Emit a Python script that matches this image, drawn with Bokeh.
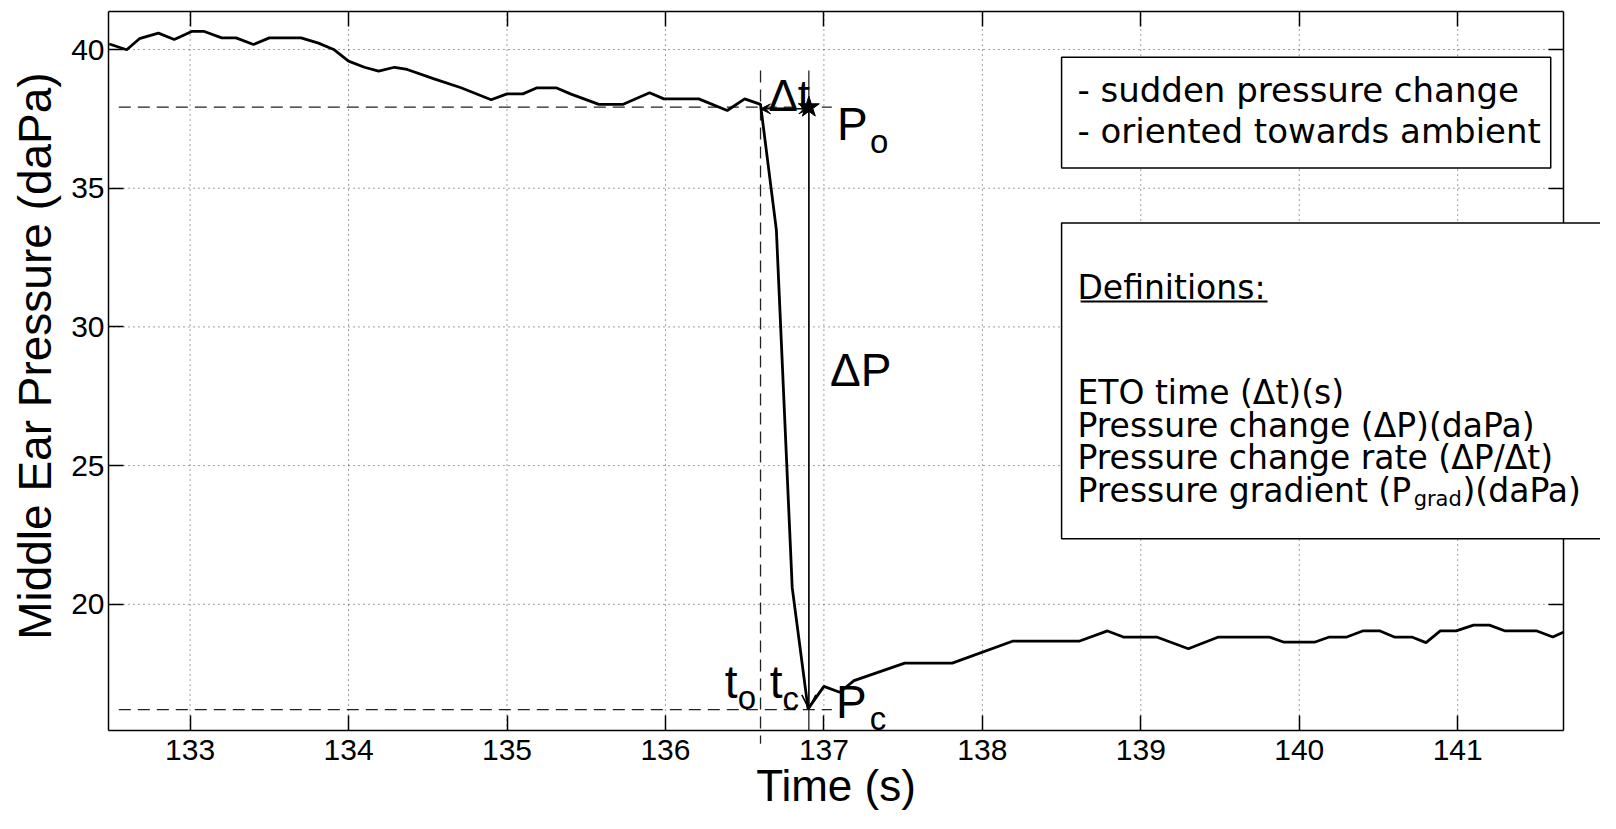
import math
from bokeh.plotting import figure
from bokeh.models import (Range1d, FixedTicker, LinearAxis, Label, Arrow,
                          OpenHead, VeeHead, BoxAnnotation)
from bokeh.embed import file_html
from bokeh.resources import INLINE

# ---------------- data ----------------
time_s = [132.49, 132.60, 132.68, 132.80, 132.90, 133.01, 133.09, 133.20, 133.29,
          133.40, 133.50, 133.70, 133.81, 133.91, 134.00, 134.10, 134.19, 134.29,
          134.37, 134.54, 134.71, 134.90, 135.00, 135.10, 135.19, 135.31, 135.40,
          135.58, 135.73, 135.90, 135.99, 136.21, 136.39, 136.50, 136.60, 136.70,
          136.80, 136.90, 137.00, 137.10, 137.19, 137.51, 137.81, 138.19, 138.61,
          138.79, 138.89, 139.10, 139.30, 139.49, 139.81, 139.90, 140.10, 140.19,
          140.30, 140.40, 140.51, 140.60, 140.71, 140.80, 140.89, 140.99, 141.10,
          141.20, 141.30, 141.50, 141.60, 141.67]
pressure_dapa = [40.20, 39.99, 40.39, 40.59, 40.36, 40.65, 40.65, 40.42, 40.42,
                 40.18, 40.42, 40.42, 40.23, 39.99, 39.58, 39.36, 39.22, 39.36,
                 39.28, 38.94, 38.62, 38.19, 38.40, 38.40, 38.62, 38.62, 38.40,
                 38.02, 38.02, 38.44, 38.22, 38.22, 37.80, 38.22, 38.02, 33.50,
                 20.60, 16.23, 17.04, 16.83, 17.25, 17.88, 17.88, 18.67, 18.67,
                 19.04, 18.82, 18.82, 18.40, 18.82, 18.82, 18.64, 18.64, 18.82,
                 18.82, 19.04, 19.04, 18.82, 18.82, 18.62, 19.04, 19.04, 19.25,
                 19.25, 19.04, 19.04, 18.82, 19.00]

x_ticks = [133, 134, 135, 136, 137, 138, 139, 140, 141]
y_ticks = [20, 25, 30, 35, 40]

# axis box (data limits of the plotted area)
x_min, x_max = 132.485, 141.67
y_min, y_max = 15.45, 41.37

t_open = 136.60      # t_o
t_close = 136.905    # t_c
p_open = 37.92       # P_o
p_close = 16.20      # P_c
guide_top = 39.24
guide_left = 132.55
guide_right = 137.05

x_title = "Time (s)"
y_title = "Middle Ear Pressure (daPa)"
box1_lines = ["- sudden pressure change", "- oriented towards ambient"]
def_title = "Definitions:"
def_lines = ["ETO time (\u0394t)(s)", "Pressure change (\u0394P)(daPa)",
             "Pressure change rate (\u0394P/\u0394t)"]

AX_FONT = "Liberation Sans"
BOX_FONT = "DejaVu Sans"

# ---------------- figure ----------------
p = figure(width=1600, height=813,
           x_range=Range1d(131.8034, 141.9012), y_range=Range1d(12.459, 41.7665),
           output_backend="svg", toolbar_location=None,
           min_border=0, min_border_left=0, min_border_right=0,
           min_border_top=0, min_border_bottom=0)
p.outline_line_color = None
p.background_fill_color = "white"
p.border_fill_color = "white"
p.grid.visible = False


def style_axis(ax, ticks, show_labels):
    ax.ticker = FixedTicker(ticks=ticks)
    ax.major_tick_in = 15
    ax.major_tick_out = 0
    ax.minor_tick_line_color = None
    ax.axis_line_color = "black"
    ax.axis_line_width = 1.5
    ax.major_tick_line_color = "black"
    ax.major_tick_line_width = 1.5
    if show_labels:
        ax.major_label_text_font = AX_FONT
        ax.major_label_text_font_size = "30px"
        ax.major_label_text_color = "black"
    else:
        ax.major_label_overrides = {t: "" for t in ticks}
        ax.major_label_text_font_size = "0px"
        ax.major_label_standoff = 0


xa = p.xaxis[0]
ya = p.yaxis[0]
style_axis(xa, x_ticks, True)
style_axis(ya, y_ticks, True)
xa.fixed_location = y_min
xa.bounds = (x_min, x_max)
ya.fixed_location = x_min
ya.bounds = (y_min, y_max)
xa.major_label_standoff = 9
ya.major_label_standoff = 4

xa.axis_label = x_title
xa.axis_label_text_font = AX_FONT
xa.axis_label_text_font_size = "44px"
xa.axis_label_text_font_style = "normal"
xa.axis_label_text_color = "black"
xa.axis_label_standoff = -2

top_ax = LinearAxis(fixed_location=y_max, bounds=(x_min, x_max))
style_axis(top_ax, x_ticks, False)
p.add_layout(top_ax, "above")
right_ax = LinearAxis(fixed_location=x_max, bounds=(y_min, y_max))
style_axis(right_ax, y_ticks, False)
p.add_layout(right_ax, "right")

# dotted grid, limited to the axis box
p.segment(x0=x_ticks, y0=[y_min] * len(x_ticks), x1=x_ticks, y1=[y_max] * len(x_ticks),
          line_color="black", line_alpha=0.75, line_width=1, line_dash="1 4")
p.segment(x0=[x_min] * len(y_ticks), y0=y_ticks, x1=[x_max] * len(y_ticks), y1=y_ticks,
          line_color="black", line_alpha=0.75, line_width=1, line_dash="1 4")

# reference dashed lines (P_o and P_c levels)
p.segment(x0=[guide_left, guide_left], y0=[p_open, p_close],
          x1=[guide_right, guide_right], y1=[p_open, p_close],
          line_color="#222222", line_width=1.3, line_dash="12 7")
# dashed vertical at t_o (runs a little below the axis)
p.segment(x0=[t_open], y0=[guide_top], x1=[t_open], y1=[14.97],
          line_color="#222222", line_width=1.3, line_dash="12 7")
# thin vertical line at t_c
p.segment(x0=[t_close], y0=[guide_top], x1=[t_close], y1=[y_min],
          line_color="#222222", line_width=1.3)

# data
p.line(time_s, pressure_dapa, line_color="black", line_width=2.8)

# star at P_o
p.scatter([t_close], [p_open], marker="star", size=22, color="black")

# delta t double arrow
p.add_layout(Arrow(start=VeeHead(size=10, fill_color="black", line_color="black"),
                   end=VeeHead(size=10, fill_color="black", line_color="black"),
                   x_start=t_open, y_start=37.86, x_end=t_close, y_end=37.86,
                   line_color="black", line_width=1.5))
# delta P arrow
p.add_layout(Arrow(end=OpenHead(size=14, line_width=1.6, line_color="black"),
                   x_start=t_close, y_start=p_open, x_end=t_close, y_end=p_close + 0.03,
                   line_color="black", line_width=1.3))


def lab(x, y, text, size, font=AX_FONT, align="left", angle=0.0):
    p.add_layout(Label(x=x, y=y, text=text, text_font=font, text_font_size=size,
                       text_color="black", text_align=align,
                       text_baseline="alphabetic", angle=angle))


# y axis title
lab(132.0211, 28.948, y_title, "46px", align="center", angle=math.pi / 2)

# annotation letters
lab(136.650, 38.335, "\u0394t", "44px")
lab(137.082, 37.318, "P", "46px")
lab(137.291, 36.691, "o", "33px")
lab(137.038, 28.450, "\u0394P", "46px")
lab(136.374, 17.202, "t", "46px")
lab(136.456, 16.626, "o", "33px")
lab(136.658, 17.202, "t", "46px")
lab(136.739, 16.601, "c", "33px")
lab(137.077, 16.471, "P", "46px")
lab(137.290, 15.880, "c", "33px")

# text boxes
p.add_layout(BoxAnnotation(left=138.50, right=141.587, top=39.72, bottom=35.73,
                           fill_color="white", fill_alpha=1.0,
                           line_color="black", line_alpha=1.0, line_width=1.5))
p.add_layout(BoxAnnotation(left=138.50, right=142.5, top=33.745, bottom=22.36,
                           fill_color="white", fill_alpha=1.0,
                           line_color="black", line_alpha=1.0, line_width=1.5))

lab(138.60, 38.55, box1_lines[0], "34px", BOX_FONT)
lab(138.60, 37.048, box1_lines[1], "34px", BOX_FONT)

lab(138.60, 31.438, def_title, "33px", BOX_FONT)
p.add_layout(Arrow(end=None, x_start=138.62, y_start=30.92, x_end=139.80, y_end=30.92,
                   line_color="black", line_width=2))
for txt, yy in zip(def_lines, [27.65, 26.46, 25.307]):
    lab(138.60, yy, txt, "33px", BOX_FONT)
lab(138.60, 24.12, "Pressure gradient (P", "33px", BOX_FONT)
lab(140.722, 23.81, "grad", "21px", BOX_FONT)
lab(141.030, 24.12, ")(daPa)", "33px", BOX_FONT)

open("out.html", "w").write(file_html(p, INLINE))
